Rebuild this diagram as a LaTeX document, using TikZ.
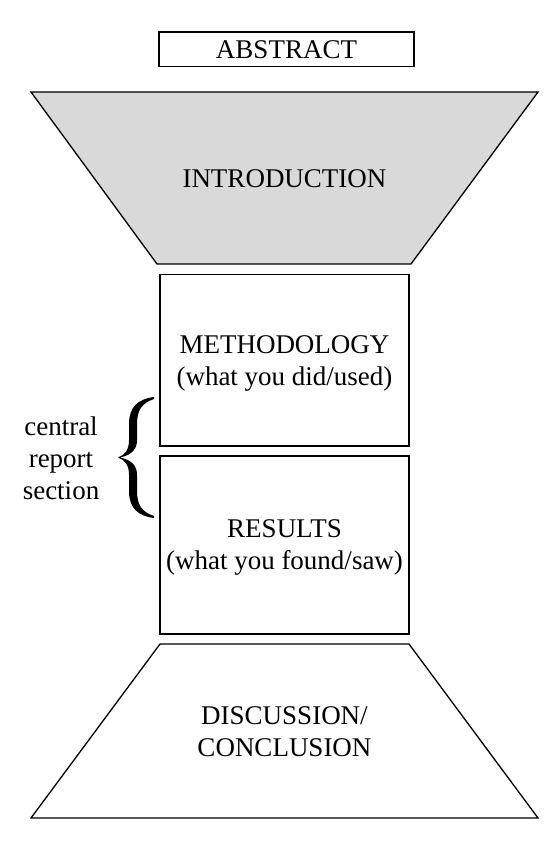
\documentclass[tikz,border=0pt]{standalone}
\usepackage{fontspec}
\setmainfont{Liberation Serif}
\definecolor{introgray}{HTML}{D9D9D9}
\begin{document}
\begin{tikzpicture}[x=1pt,y=-1pt,
  shapeline/.style={draw=black,line width=1.3pt,line join=miter},
  lbl/.style={font=\fontsize{27}{32}\selectfont,align=center,inner sep=0pt}]
\useasboundingbox (0,0) rectangle (557,842);
% abstract box
\draw[shapeline] (159,32) rectangle (414,66.5);
\node[lbl] (abstract) at (286.5,49.5) {ABSTRACT};
% introduction trapezoid
\draw[shapeline,fill=introgray] (31,92) -- (538,92) -- (411,264) -- (157,264) -- cycle;
\node[lbl] (intro) at (284.5,178.5) {INTRODUCTION};
% methodology box
\draw[shapeline] (160,274.5) rectangle (409,446);
\node[lbl] (method) at (284.5,363.5) {METHODOLOGY\\(what you did/used)};
% results box
\draw[shapeline] (160,456) rectangle (409,634);
\node[lbl] (results) at (284.5,547.5) {RESULTS\\(what you found/saw)};
% discussion trapezoid
\draw[shapeline] (160,644) -- (409,644) -- (538,818) -- (31,818) -- cycle;
\node[lbl] (discussion) at (284.5,731.5) {DISCUSSION/\\CONCLUSION};
% brace
\fill[black] (154,397) .. controls (138,399) and (129,407) .. (129,424)
  -- (129,440) .. controls (129,450) and (125,455) .. (118,457.5)
  .. controls (125,460) and (129,465) .. (129,475)
  -- (129,491) .. controls (129,508) and (138,516) .. (154,518)
  -- (154,516) .. controls (142,512) and (137,505) .. (137,491)
  -- (137,475) .. controls (137,466) and (132,460) .. (120,457.5)
  .. controls (132,455) and (137,449) .. (137,440)
  -- (137,424) .. controls (137,410) and (142,403) .. (154,399) -- cycle;
\node[lbl] (central) at (61,458) {central\\report\\section};
\end{tikzpicture}
\end{document}
